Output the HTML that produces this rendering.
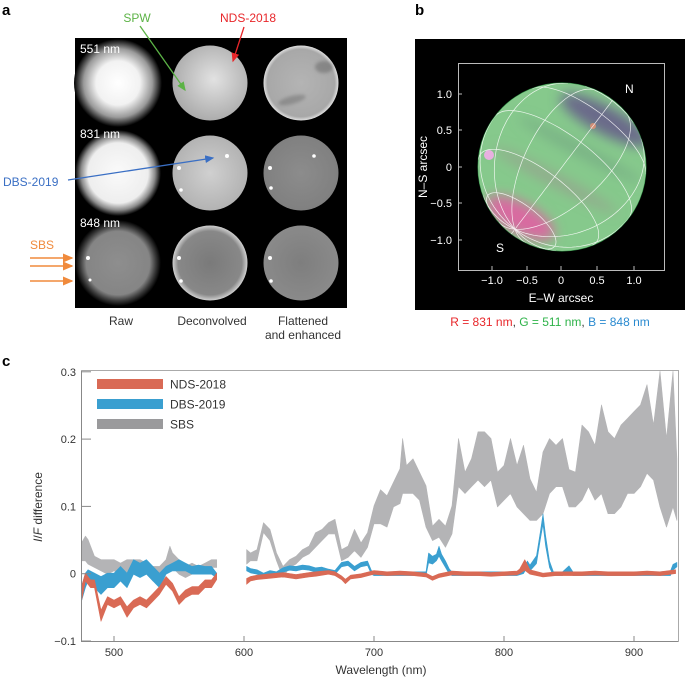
<!DOCTYPE html>
<html><head><meta charset="utf-8">
<style>
html,body{margin:0;padding:0;background:#fff;}
svg{display:block;font-family:"Liberation Sans",Arial,sans-serif;}
</style></head>
<body>
<svg id="fig" width="685" height="678" viewBox="0 0 685 678" xmlns="http://www.w3.org/2000/svg">
<defs>
  <radialGradient id="rawA" cx="0.5" cy="0.5" r="0.5"><stop offset="0" stop-color="#fff"/><stop offset="0.5" stop-color="#f2f2f2"/><stop offset="0.78" stop-color="#9a9a9a"/><stop offset="1" stop-color="#000"/></radialGradient>
  <radialGradient id="rawB" cx="0.5" cy="0.5" r="0.5"><stop offset="0" stop-color="#fafafa"/><stop offset="0.7" stop-color="#eeeeee"/><stop offset="0.86" stop-color="#8c8c8c"/><stop offset="1" stop-color="#000"/></radialGradient>
  <radialGradient id="rawC" cx="0.5" cy="0.5" r="0.5"><stop offset="0" stop-color="#8e8e8e"/><stop offset="0.74" stop-color="#858585"/><stop offset="0.88" stop-color="#3a3a3a"/><stop offset="1" stop-color="#000"/></radialGradient>
  <radialGradient id="decA" cx="0.55" cy="0.45" r="0.6"><stop offset="0" stop-color="#e2e2e2"/><stop offset="1" stop-color="#a8a8a8"/></radialGradient>
  <radialGradient id="decB" cx="0.5" cy="0.5" r="0.55"><stop offset="0" stop-color="#d0d0d0"/><stop offset="1" stop-color="#b0b0b0"/></radialGradient>
  <radialGradient id="decC" cx="0.5" cy="0.5" r="0.5"><stop offset="0" stop-color="#7a7a7a"/><stop offset="0.85" stop-color="#888"/><stop offset="1" stop-color="#d0d0d0"/></radialGradient>
  <radialGradient id="flA" cx="0.5" cy="0.5" r="0.5"><stop offset="0" stop-color="#b4b4b4"/><stop offset="0.9" stop-color="#a8a8a8"/><stop offset="1" stop-color="#e0e0e0"/></radialGradient>
  <radialGradient id="flB" cx="0.5" cy="0.5" r="0.5"><stop offset="0" stop-color="#8c8c8c"/><stop offset="1" stop-color="#808080"/></radialGradient>
  <radialGradient id="flC" cx="0.5" cy="0.5" r="0.5"><stop offset="0" stop-color="#7e7e7e"/><stop offset="1" stop-color="#8a8a8a"/></radialGradient>
  <filter id="blur3"><feGaussianBlur stdDeviation="6"/></filter>
  <filter id="blur1"><feGaussianBlur stdDeviation="1.5"/></filter>
  <clipPath id="diskClip"><circle cx="562" cy="167" r="84"/></clipPath>
  <marker id="ahG" markerWidth="8" markerHeight="8" refX="6" refY="3" orient="auto"><path d="M0,0 L7,3 L0,6 z" fill="#5cb346"/></marker>
  <marker id="ahR" markerWidth="8" markerHeight="8" refX="6" refY="3" orient="auto"><path d="M0,0 L7,3 L0,6 z" fill="#e8262a"/></marker>
  <marker id="ahB" markerWidth="8" markerHeight="8" refX="6" refY="3" orient="auto"><path d="M0,0 L7,3 L0,6 z" fill="#3a6fc4"/></marker>
  <marker id="ahO" markerWidth="8" markerHeight="8" refX="6" refY="3" orient="auto"><path d="M0,0 L7,3 L0,6 z" fill="#f08a3c"/></marker>
</defs>

<!-- Panel a -->
<g>
  <text x="2" y="15" font-size="15" font-weight="bold">a</text>
  <rect x="75" y="38" width="272" height="270" fill="#000"/>
  <g clip-path="none">
  <circle cx="118" cy="83" r="44" fill="url(#rawA)"/>
  <circle cx="118" cy="173" r="43" fill="url(#rawB)"/>
  <circle cx="118" cy="263" r="43" fill="url(#rawC)"/>
  </g>
  <circle cx="210" cy="83" r="37.5" fill="url(#decA)"/>
  <circle cx="210" cy="173" r="37.5" fill="url(#decB)"/>
  <circle cx="210" cy="263" r="37.5" fill="url(#decC)"/>
  <circle cx="301" cy="83" r="37.5" fill="url(#flA)"/>
  <circle cx="301" cy="173" r="37.5" fill="url(#flB)"/>
  <circle cx="301" cy="263" r="37.5" fill="url(#flC)"/>
  <g opacity="0.35" filter="url(#blur1)">
    <ellipse cx="324" cy="67" rx="9" ry="6" fill="#444"/>
    <ellipse cx="292" cy="100" rx="14" ry="4" fill="#555" transform="rotate(-15 292 100)"/>
  </g>
  <g fill="#fff">
    <circle cx="227" cy="156" r="2"/><circle cx="179" cy="168" r="2"/><circle cx="181" cy="190" r="1.8"/>
    <circle cx="314" cy="156" r="1.8"/><circle cx="270" cy="168" r="2"/><circle cx="271" cy="188" r="1.8"/>
    <circle cx="179" cy="258" r="2"/><circle cx="181" cy="281" r="1.8"/><circle cx="270" cy="258" r="2"/><circle cx="271" cy="281" r="1.8"/>
    <circle cx="88" cy="258" r="2"/><circle cx="90" cy="280" r="1.5"/>
  </g>
  <text x="80" y="53" font-size="12" fill="#fff">551 nm</text>
  <text x="80" y="138" font-size="12" fill="#fff">831 nm</text>
  <text x="80" y="227" font-size="12" fill="#fff">848 nm</text>
  <text x="121" y="325" font-size="12" fill="#333" text-anchor="middle">Raw</text>
  <text x="212" y="325" font-size="12" fill="#333" text-anchor="middle">Deconvolved</text>
  <text x="303" y="325" font-size="12" fill="#333" text-anchor="middle">Flattened</text>
  <text x="303" y="339" font-size="12" fill="#333" text-anchor="middle">and enhanced</text>
  <text x="137" y="22" font-size="12" fill="#5cb346" text-anchor="middle">SPW</text>
  <line x1="140" y1="26" x2="185" y2="90" stroke="#5cb346" stroke-width="1.3" marker-end="url(#ahG)"/>
  <text x="248" y="22" font-size="12" fill="#e8262a" text-anchor="middle">NDS-2018</text>
  <line x1="244" y1="27" x2="233" y2="61" stroke="#e8262a" stroke-width="1.3" marker-end="url(#ahR)"/>
  <text x="3" y="186" font-size="12" fill="#3a6fc4">DBS-2019</text>
  <line x1="68" y1="180" x2="213" y2="158" stroke="#3a6fc4" stroke-width="1.3" marker-end="url(#ahB)"/>
  <text x="42" y="249" font-size="12" fill="#f08a3c" text-anchor="middle">SBS</text>
  <g stroke="#f08a3c" stroke-width="1.5">
    <line x1="30" y1="258" x2="72" y2="258" marker-end="url(#ahO)"/>
    <line x1="30" y1="266" x2="72" y2="266" marker-end="url(#ahO)"/>
    <line x1="30" y1="281" x2="72" y2="281" marker-end="url(#ahO)"/>
  </g>
</g>

<!-- Panel b -->
<g>
  <text x="415" y="15" font-size="15" font-weight="bold">b</text>
  <rect x="415" y="39" width="270" height="271" fill="#000"/>
  <rect x="458.5" y="63.5" width="206" height="207" fill="none" stroke="#bbb" stroke-width="1"/>
  <circle cx="562" cy="167" r="84.5" fill="#2a8a40"/>
  <g clip-path="url(#diskClip)">
    <rect x="470" y="80" width="190" height="180" fill="#86c98c"/>
    <g filter="url(#blur3)">
      <ellipse cx="605" cy="120" rx="50" ry="14" fill="#6a6a8a" transform="rotate(28 605 120)"/>
      <ellipse cx="520" cy="218" rx="38" ry="15" fill="#d86aa0" transform="rotate(28 520 218)"/>
      <ellipse cx="555" cy="180" rx="70" ry="6" fill="#a08a90" opacity="0.5" transform="rotate(28 555 180)"/>
      <ellipse cx="580" cy="150" rx="70" ry="6" fill="#70a080" opacity="0.6" transform="rotate(28 580 150)"/>
    </g>
    <circle cx="489" cy="155" r="5" fill="#e8b0e0"/>
    <circle cx="593" cy="126" r="3" fill="#e89070" opacity="0.8"/>
    <g id="grid" fill="none" stroke="#fff" stroke-width="0.7" opacity="0.85"></g>
  </g>
  <text x="625" y="93" font-size="12" fill="#fff">N</text>
  <text x="496" y="252" font-size="12" fill="#fff">S</text>
  <g font-size="11" fill="#fff" text-anchor="end">
    <text x="452" y="98">1.0</text><text x="452" y="134">0.5</text><text x="452" y="171">0</text><text x="452" y="207">−0.5</text><text x="452" y="244">−1.0</text>
  </g>
  <g font-size="11" fill="#fff" text-anchor="middle">
    <text x="492" y="284">−1.0</text><text x="527" y="284">−0.5</text><text x="561" y="284">0</text><text x="597" y="284">0.5</text><text x="634" y="284">1.0</text>
  </g>
  <g stroke="#bbb" stroke-width="1">
    <line x1="492" y1="270" x2="492" y2="266"/><line x1="527" y1="270" x2="527" y2="266"/><line x1="561" y1="270" x2="561" y2="266"/><line x1="597" y1="270" x2="597" y2="266"/><line x1="634" y1="270" x2="634" y2="266"/>
    <line x1="458" y1="94" x2="462" y2="94"/><line x1="458" y1="130" x2="462" y2="130"/><line x1="458" y1="167" x2="462" y2="167"/><line x1="458" y1="203" x2="462" y2="203"/><line x1="458" y1="240" x2="462" y2="240"/>
  </g>
  <text x="561" y="302" font-size="12" fill="#fff" text-anchor="middle">E–W arcsec</text>
  <text x="427" y="167" font-size="12" fill="#fff" text-anchor="middle" transform="rotate(-90 427 167)">N–S arcsec</text>
  <text x="550" y="326" font-size="12" text-anchor="middle"><tspan fill="#e8262a">R = 831 nm</tspan><tspan fill="#333">, </tspan><tspan fill="#2fb34a">G = 511 nm</tspan><tspan fill="#333">, </tspan><tspan fill="#2a8ad0">B = 848 nm</tspan></text>
</g>

<!-- Panel c -->
<g>
  <text x="2" y="366" font-size="15" font-weight="bold">c</text>
  <g id="plot"></g>
  <path d="M81.5,370.5 H678.5 V641.5" fill="none" stroke="#aaa" stroke-width="1"/>
  <path d="M81.5,370.5 V641.5 H678.5" fill="none" stroke="#888" stroke-width="1"/>
  <g id="ticks"></g>
  <text x="42" y="507" font-size="12" fill="#333" text-anchor="middle" transform="rotate(-90 42 507)"><tspan font-style="italic">I</tspan>/<tspan font-style="italic">F</tspan> difference</text>
  <text x="381" y="674" font-size="12" fill="#333" text-anchor="middle">Wavelength (nm)</text>
  <g>
    <rect x="97" y="379" width="66" height="10" fill="#d96a55"/>
    <text x="170" y="388.5" font-size="12" fill="#333">NDS-2018</text>
    <rect x="97" y="399" width="66" height="10" fill="#3a9fd0"/>
    <text x="170" y="408.5" font-size="12" fill="#333">DBS-2019</text>
    <rect x="97" y="419" width="66" height="10" fill="#9a9a9c"/>
    <text x="170" y="428.5" font-size="12" fill="#333">SBS</text>
  </g>
</g>
</svg>
<script>
// ---- Chart data (panel c) ----
const sbsNm = [475,478,480,485,490,495,500,505,510,515,520,525,530,535,540,543,545,550,555,560,565,570,575,579,
  602,605,610,615,620,625,630,635,640,645,650,655,660,665,670,675,680,685,690,695,700,705,710,715,720,722,725,730,735,740,745,750,755,760,765,770,775,780,785,790,795,800,805,810,815,820,825,830,835,840,845,850,855,860,865,870,875,880,885,890,895,900,905,910,915,920,925,930,933];
const sbsLo = [0.02,0.02,0.015,0.01,0.005,0.0,0.005,0.0,0.0,0.005,0.005,0.0,-0.01,-0.015,0.0,0.015,0.01,0.0,-0.005,0.0,0.0,0.005,0.01,0.01,
  0.015,0.02,0.02,0.062,0.05,0.02,-0.005,0.01,0.015,0.025,0.03,0.04,0.05,0.06,0.06,0.02,0.025,0.035,0.025,0.04,0.075,0.075,0.07,0.1,0.105,0.12,0.12,0.12,0.11,0.07,0.05,0.055,0.04,0.06,0.13,0.12,0.13,0.14,0.13,0.14,0.1,0.11,0.12,0.1,0.09,0.08,0.08,0.09,0.12,0.13,0.13,0.1,0.1,0.11,0.13,0.11,0.12,0.09,0.09,0.1,0.12,0.12,0.13,0.15,0.14,0.1,0.07,0.1,0.08];
const sbsHi = [0.045,0.055,0.05,0.025,0.02,0.02,0.02,0.015,0.02,0.02,0.02,0.015,0.01,0.01,0.02,0.04,0.03,0.02,0.01,0.015,0.01,0.015,0.02,0.02,
  0.035,0.03,0.035,0.075,0.065,0.03,0.01,0.02,0.025,0.035,0.04,0.06,0.065,0.075,0.08,0.035,0.04,0.065,0.045,0.06,0.1,0.124,0.115,0.135,0.155,0.2,0.16,0.17,0.15,0.13,0.07,0.08,0.07,0.1,0.2,0.15,0.17,0.21,0.21,0.2,0.15,0.16,0.2,0.16,0.19,0.14,0.12,0.18,0.2,0.19,0.2,0.154,0.15,0.22,0.21,0.19,0.25,0.21,0.2,0.22,0.23,0.24,0.25,0.28,0.22,0.3,0.2,0.3,0.17];

const dbsNm = [475,478,480,485,490,495,500,505,510,515,520,525,530,535,540,545,550,555,560,565,570,575,579,
  602,605,610,615,620,625,630,635,640,645,650,655,660,665,670,675,680,685,690,695,698,700,710,720,730,740,742,745,748,750,752,755,758,760,770,780,790,800,810,815,818,820,825,828,830,832,835,838,845,850,853,860,870,880,890,900,910,920,928,930,933];
const dbsLo = [-0.04,-0.02,-0.01,-0.02,-0.03,-0.02,-0.02,-0.01,-0.02,0.0,-0.005,0.0,-0.01,-0.02,0.0,0.005,0.005,0.005,0.0,0.0,0.0,0.0,-0.005,
  0.005,0.002,0.0,-0.004,0.0,-0.002,0.003,0.006,0.005,0.007,0.006,0.003,0.005,0.002,0.0,0.011,0.013,0.005,0.011,0.013,0.0,-0.002,-0.002,-0.002,-0.002,-0.002,0.017,0.015,0.02,0.027,0.02,0.01,0.0,-0.002,-0.002,-0.002,-0.002,-0.002,-0.002,0.001,0.011,0.005,0.016,0.052,0.074,0.042,0.01,-0.002,-0.002,0.005,-0.002,-0.002,-0.002,-0.002,-0.002,-0.002,-0.002,-0.002,-0.002,0.006,0.011];
const dbsHi = [-0.02,0.0,0.005,0.0,-0.005,0.0,0.0,0.01,0.0,0.02,0.015,0.02,0.01,0.0,0.01,0.015,0.02,0.015,0.01,0.012,0.01,0.01,0.0,
  0.01,0.007,0.005,0.0,0.004,0.002,0.008,0.011,0.01,0.012,0.011,0.008,0.009,0.006,0.004,0.016,0.018,0.01,0.016,0.018,0.004,0.002,0.002,0.002,0.002,0.002,0.03,0.025,0.028,0.04,0.028,0.018,0.006,0.002,0.002,0.002,0.002,0.002,0.002,0.006,0.018,0.012,0.026,0.062,0.088,0.056,0.018,0.002,0.002,0.011,0.002,0.002,0.002,0.002,0.002,0.002,0.002,0.002,0.003,0.013,0.016];

const ndsNm = [475,478,482,485,490,495,500,505,510,515,520,525,530,535,540,545,550,555,560,565,570,575,579,
  602,605,610,620,630,640,650,655,665,670,675,678,682,690,700,710,720,730,740,745,750,760,770,780,790,800,810,812,816,820,830,840,850,860,870,880,890,900,910,920,932];
const ndsLo = [-0.04,-0.01,-0.02,-0.02,-0.07,-0.045,-0.05,-0.045,-0.064,-0.05,-0.045,-0.05,-0.04,-0.03,-0.015,-0.025,-0.045,-0.035,-0.03,-0.03,-0.02,-0.02,-0.008,
  -0.015,-0.01,-0.008,-0.006,-0.004,-0.007,-0.004,-0.003,0.0,-0.002,-0.008,-0.014,-0.007,-0.005,0.0,-0.002,-0.001,-0.002,-0.004,-0.009,-0.005,-0.001,-0.002,-0.002,-0.003,-0.002,-0.001,0.001,0.006,0.0,-0.004,-0.002,-0.002,-0.002,-0.001,-0.002,-0.002,-0.002,-0.001,-0.002,0.001];
const ndsHi = [-0.02,0.0,-0.01,-0.01,-0.055,-0.035,-0.04,-0.035,-0.05,-0.04,-0.035,-0.04,-0.03,-0.02,-0.005,-0.015,-0.035,-0.025,-0.02,-0.02,-0.01,-0.01,0.0,
  -0.008,-0.005,-0.003,-0.001,0.001,-0.002,0.001,0.002,0.004,0.002,-0.004,-0.009,-0.003,-0.001,0.004,0.002,0.003,0.002,0.0,-0.005,-0.001,0.003,0.002,0.002,0.001,0.002,0.003,0.006,0.02,0.005,0.0,0.002,0.002,0.002,0.003,0.002,0.002,0.002,0.003,0.002,0.005];

const yTickVals = [0.3,0.2,0.1,0,-0.1];
const yTickLabels = ["0.3","0.2","0.1","0","−0.1"];
const xTickVals = [500,600,700,800,900];
const xTickLabels = ["500","600","700","800","900"];

const NS = "http://www.w3.org/2000/svg";
function xScale(nm){ return 114 + (nm - 500) * 1.30; }
function yScale(v){ return 573.7 - v * 673; }

function bandPaths(nm, lo, hi){
  const segs = []; let cur = [];
  for (let i = 0; i < nm.length; i++){
    if (i > 0 && nm[i] - nm[i-1] > 20){ segs.push(cur); cur = []; }
    cur.push(i);
  }
  segs.push(cur);
  return segs.map(function(s){
    let d = "";
    s.forEach(function(i, k){ d += (k ? "L" : "M") + xScale(nm[i]).toFixed(1) + "," + yScale(Math.max(hi[i], lo[i]) + 0.0008).toFixed(1); });
    for (let k = s.length - 1; k >= 0; k--){ const i = s[k]; d += "L" + xScale(nm[i]).toFixed(1) + "," + yScale(Math.min(hi[i], lo[i]) - 0.0008).toFixed(1); }
    return d + "Z";
  });
}
const plot = document.getElementById("plot");
function drawSeries(nm, lo, hi, color, name){
  const g = document.createElementNS(NS, "g");
  
  
  bandPaths(nm, lo, hi).forEach(function(d){
    const p = document.createElementNS(NS, "path");
    p.setAttribute("d", d);
    p.setAttribute("fill", color);
    p.setAttribute("stroke", color);
    p.setAttribute("stroke-width", "0.6");
    p.setAttribute("stroke-linejoin", "round");
    
    
    g.appendChild(p);
  });
  plot.appendChild(g);
}
drawSeries(sbsNm, sbsLo, sbsHi, "#b4b4b6", "sbs-series");
drawSeries(dbsNm, dbsLo, dbsHi, "#3a9fd0", "dbs-2019-series");
drawSeries(ndsNm, ndsLo, ndsHi, "#d96a55", "nds-2018-series");

const ticks = document.getElementById("ticks");
yTickVals.forEach(function(v, i){
  const y = yScale(v);
  const l = document.createElementNS(NS, "line");
  l.setAttribute("x1", 81.5); l.setAttribute("x2", 91); l.setAttribute("y1", y); l.setAttribute("y2", y);
  l.setAttribute("stroke", "#888");
  
  
  ticks.appendChild(l);
  const t = document.createElementNS(NS, "text");
  t.setAttribute("x", 76); t.setAttribute("y", y + 4);
  t.setAttribute("font-size", "11"); t.setAttribute("fill", "#333"); t.setAttribute("text-anchor", "end");
  t.textContent = yTickLabels[i];
  
  
  ticks.appendChild(t);
});
xTickVals.forEach(function(v, i){
  const x = xScale(v);
  const l = document.createElementNS(NS, "line");
  l.setAttribute("x1", x); l.setAttribute("x2", x); l.setAttribute("y1", 641.5); l.setAttribute("y2", 636);
  l.setAttribute("stroke", "#888");
  
  
  ticks.appendChild(l);
  const t = document.createElementNS(NS, "text");
  t.setAttribute("x", x); t.setAttribute("y", 656);
  t.setAttribute("font-size", "11"); t.setAttribute("fill", "#333"); t.setAttribute("text-anchor", "middle");
  t.textContent = xTickLabels[i];
  
  
  ticks.appendChild(t);
});

// ---- Lat/lon grid on disk (panel b) ----
const grid = document.getElementById("grid");
const cx = 562, cy = 167, R = 84;
const P = [-0.56, 0.74, 0.37]; const pn = Math.hypot(P[0], P[1], P[2]);
const pole = P.map(function(c){ return c / pn; });
let e1 = [pole[1], -pole[0], 0]; const n1 = Math.hypot(e1[0], e1[1]); e1 = [e1[0]/n1, e1[1]/n1, 0];
const e2 = [pole[1]*e1[2]-pole[2]*e1[1], pole[2]*e1[0]-pole[0]*e1[2], pole[0]*e1[1]-pole[1]*e1[0]];
function proj(lat, lon){
  const cl = Math.cos(lat), sl = Math.sin(lat);
  return [0,1,2].map(function(k){ return pole[k]*sl + cl*(Math.cos(lon)*e1[k] + Math.sin(lon)*e2[k]); });
}
function drawCurve(pts){
  let d = "", pen = false;
  pts.forEach(function(v){
    if (v[2] > -0.02){ d += (pen ? "L" : "M") + (cx + R*v[0]).toFixed(1) + "," + (cy + R*v[1]).toFixed(1); pen = true; }
    else pen = false;
  });
  if (!d) return;
  const p = document.createElementNS(NS, "path");
  p.setAttribute("d", d);
  
  
  grid.appendChild(p);
}
[-60,-30,0,30,60].forEach(function(la){
  const pts = []; for (let lo = 0; lo <= 360; lo += 4) pts.push(proj(la*Math.PI/180, lo*Math.PI/180));
  drawCurve(pts);
});
for (let lo = 0; lo < 360; lo += 30){
  const pts = []; for (let la = -90; la <= 90; la += 3) pts.push(proj(la*Math.PI/180, lo*Math.PI/180));
  drawCurve(pts);
}
</script>
</body></html>
